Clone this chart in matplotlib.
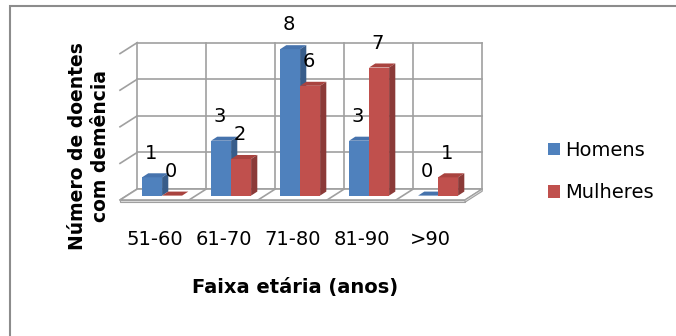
import numpy as np
import matplotlib
matplotlib.use('Agg')
import matplotlib.pyplot as plt
from matplotlib.patches import Polygon, Rectangle, Patch

# data
faixas = ['51-60', '61-70', '71-80', '81-90', '>90']
homens = [1, 3, 8, 3, 0]
mulheres = [0, 2, 6, 7, 1]
series = [('Homens', homens), ('Mulheres', mulheres)]
y_grid = [0, 2, 4, 6, 8]

# colours (front, top, side)
cores = {'Homens': ('#4f81bd', '#4673ad', '#385d8a'),
         'Mulheres': ('#c0504d', '#a9433f', '#8b3a38')}
grid_col = '#a0a0a0'

W, H = 676, 336
fig = plt.figure(figsize=(W / 100, H / 100), dpi=100)

# axes placed so that one category is ~69 px and one unit ~18.3 px
px_cat, px_val = 69.0, 18.3
x0_px, y0_px = 120.0, 200.0          # front-left corner of the floor
xlim = (-0.25, 5.3)
ylim = (-0.45, 8.9)
left = (x0_px + xlim[0] * px_cat) / W
width = (xlim[1] - xlim[0]) * px_cat / W
bottom = (H - (y0_px - ylim[0] * px_val)) / H
height = (ylim[1] - ylim[0]) * px_val / H
ax = fig.add_axes([left, bottom, width, height])
ax.set_xlim(*xlim)
ax.set_ylim(*ylim)
for s in ax.spines.values():
    s.set_visible(False)
ax.set_yticks([])

n = len(faixas)
dx, dy = 0.25, 0.6          # depth of the whole box
bdx, bdy = 0.09, 0.22       # depth of one bar
fx, fy = 0.4 * dx, 0.4 * dy  # where the bar front faces sit
bw = 0.29
top = max(y_grid)

# back wall grid
for v in y_grid:
    ax.plot([dx, n + dx], [v + dy, v + dy], color=grid_col, lw=1.2, zorder=1)
    ax.plot([0, dx], [v, v + dy], color=grid_col, lw=1.2, zorder=1)
for i in range(n + 1):
    ax.plot([i + dx, i + dx], [dy, top + dy], color=grid_col, lw=1.2, zorder=1)

# floor
ax.add_patch(Polygon([(0, 0), (n, 0), (n + dx, dy), (dx, dy)], closed=True,
                     facecolor='white', edgecolor=grid_col, lw=1.2, zorder=2))
ax.add_patch(Rectangle((0, -0.12), n, 0.12, facecolor='#e0e0e0',
                       edgecolor=grid_col, lw=0.8, zorder=2))
ax.add_patch(Polygon([(n, 0), (n + dx, dy), (n + dx, dy - 0.12), (n, -0.12)],
                     closed=True, facecolor='#e0e0e0', edgecolor=grid_col,
                     lw=0.8, zorder=2))
for i in range(1, n):
    ax.plot([i, i + dx], [0, dy], color=grid_col, lw=1.2, zorder=2)

# bars
x = np.arange(n)
z = 3
for i in range(n):
    for k, (nome, vals) in enumerate(series):
        front, topc, side = cores[nome]
        xl = x[i] + 0.22 + k * bw + fx
        v = vals[i]
        ax.bar(xl, v, bw, bottom=fy, align='edge', color=front,
               edgecolor='none', zorder=z)
        ax.add_patch(Polygon([(xl, fy + v), (xl + bw, fy + v),
                              (xl + bw + bdx, fy + v + bdy), (xl + bdx, fy + v + bdy)],
                             closed=True, facecolor=topc, edgecolor='none', zorder=z))
        ax.add_patch(Polygon([(xl + bw, fy), (xl + bw + bdx, fy + bdy),
                              (xl + bw + bdx, fy + v + bdy), (xl + bw, fy + v)],
                             closed=True, facecolor=side, edgecolor='none', zorder=z))
        ax.annotate(str(v), (xl + bw / 2, fy + v), xytext=(-1, 17.5),
                    textcoords='offset points', ha='center', va='center',
                    fontsize=14, zorder=10)
        z += 1

ax.set_xticks(x + 0.5)
ax.set_xticklabels(faixas, fontsize=14)
ax.tick_params(axis='x', length=0, pad=16)

fig.text(295 / W, 1 - 288 / H, 'Faixa etária (anos)', ha='center', va='center',
         fontsize=14, fontweight='bold')
fig.text(89 / W, 1 - 146 / H, 'Número de doentes\ncom demência', ha='center',
         va='center', rotation=90, fontsize=13.5, fontweight='bold',
         linespacing=1.25)

handles = [Patch(facecolor=cores[nome][0]) for nome, _ in series]
fig.legend(handles, [nome for nome, _ in series], loc='center left',
           bbox_to_anchor=(548 / W, 1 - 171.5 / H), frameon=False, fontsize=14,
           handlelength=0.62, handleheight=0.62, handletextpad=0.25,
           labelspacing=1.2, borderpad=0, borderaxespad=0)

# outer chart border (cut by the image on right and bottom)
fig.patches.append(Rectangle((9.5 / W, -0.2), 1.2, 1.2 - 5.5 / H,
                             transform=fig.transFigure, fill=False,
                             edgecolor='#8c8c8c', lw=1.5))

fig.savefig('out.png', dpi=100)
